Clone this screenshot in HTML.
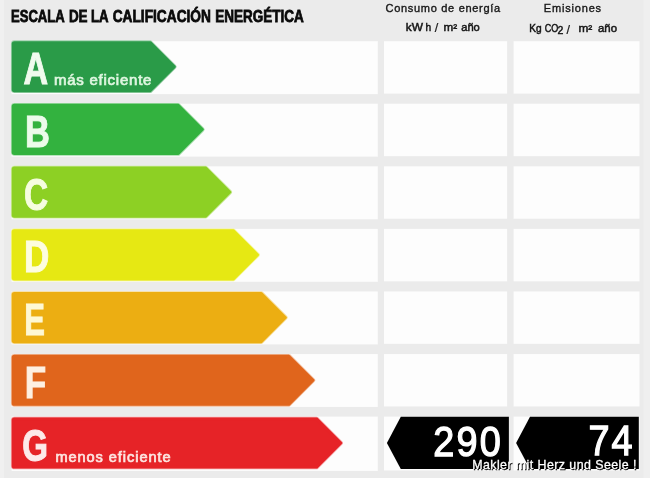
<!DOCTYPE html>
<html><head><meta charset="utf-8"><title>Escala de la calificación energética</title>
<style>
html,body{margin:0;padding:0;background:#ebebeb;}
body{width:650px;height:478px;overflow:hidden;font-family:"Liberation Sans",sans-serif;}
svg{display:block;font-family:"Liberation Sans",sans-serif;}
</style></head><body>
<svg style="will-change:transform" width="650" height="478" viewBox="0 0 650 478">
<rect x="0" y="0" width="650" height="478" fill="#ebebeb"/>
<g font-size="17" font-weight="bold" fill="#0a0a0a" stroke="#0a0a0a" stroke-width="0.8"><text x="11.0" y="21.9" textLength="53.7" lengthAdjust="spacingAndGlyphs">ESCALA</text><text x="68.9" y="21.9" textLength="18.7" lengthAdjust="spacingAndGlyphs">DE</text><text x="91.0" y="21.9" textLength="17.6" lengthAdjust="spacingAndGlyphs">LA</text><text x="112.7" y="21.9" textLength="98.2" lengthAdjust="spacingAndGlyphs">CALIFICACIÓN</text><text x="215.2" y="21.9" textLength="88.5" lengthAdjust="spacingAndGlyphs">ENERGÉTICA</text></g>
<text x="385.6" y="11.6" font-size="11" fill="#151515" stroke="#151515" stroke-width="0.35" textLength="114.5" lengthAdjust="spacing">Consumo de energía</text>
<g font-size="10.2" fill="#151515" stroke="#151515" stroke-width="0.45"><text x="405.8" y="31.1" textLength="17.2" lengthAdjust="spacingAndGlyphs">kW</text><text x="425.6" y="31.1">h</text><text x="434.8" y="32.3" font-size="12.5" stroke-width="0.2">/</text><text x="443.6" y="31.1" textLength="13.6" lengthAdjust="spacingAndGlyphs">m²</text><text x="461.2" y="31.1" textLength="18.6" lengthAdjust="spacingAndGlyphs">año</text></g>
<text x="543.8" y="11.6" font-size="11" fill="#151515" stroke="#151515" stroke-width="0.35" textLength="57.3" lengthAdjust="spacing">Emisiones</text>
<g font-size="10.2" fill="#151515" stroke="#151515" stroke-width="0.45"><text x="529.2" y="32.2" textLength="12.4" lengthAdjust="spacingAndGlyphs">Kg</text><text x="544.8" y="32.2" textLength="13.6" lengthAdjust="spacingAndGlyphs">CO</text><text x="557.6" y="34.3" font-size="10.5">2</text><text x="566.6" y="33.6" font-size="12.5" stroke-width="0.2">/</text><text x="578.4" y="32.2" textLength="13.8" lengthAdjust="spacingAndGlyphs">m²</text><text x="598.0" y="32.2" textLength="19.0" lengthAdjust="spacingAndGlyphs">año</text></g>
<defs><filter id="soft" x="-5%" y="-5%" width="110%" height="110%"><feGaussianBlur stdDeviation="0.7"/></filter></defs>
<g filter="url(#soft)">
<rect x="11.6" y="41.20" width="366.2" height="52.90" fill="#fdfdfd"/>
<rect x="384.0" y="41.20" width="123.1" height="52.40" fill="#fdfdfd"/>
<rect x="513.6" y="41.20" width="125.9" height="52.40" fill="#fdfdfd"/>
<rect x="11.6" y="103.77" width="366.2" height="52.90" fill="#fdfdfd"/>
<rect x="384.0" y="103.77" width="123.1" height="52.40" fill="#fdfdfd"/>
<rect x="513.6" y="103.77" width="125.9" height="52.40" fill="#fdfdfd"/>
<rect x="11.6" y="166.34" width="366.2" height="52.90" fill="#fdfdfd"/>
<rect x="384.0" y="166.34" width="123.1" height="52.40" fill="#fdfdfd"/>
<rect x="513.6" y="166.34" width="125.9" height="52.40" fill="#fdfdfd"/>
<rect x="11.6" y="228.91" width="366.2" height="52.90" fill="#fdfdfd"/>
<rect x="384.0" y="228.91" width="123.1" height="52.40" fill="#fdfdfd"/>
<rect x="513.6" y="228.91" width="125.9" height="52.40" fill="#fdfdfd"/>
<rect x="11.6" y="291.48" width="366.2" height="52.90" fill="#fdfdfd"/>
<rect x="384.0" y="291.48" width="123.1" height="52.40" fill="#fdfdfd"/>
<rect x="513.6" y="291.48" width="125.9" height="52.40" fill="#fdfdfd"/>
<rect x="11.6" y="354.05" width="366.2" height="52.90" fill="#fdfdfd"/>
<rect x="384.0" y="354.05" width="123.1" height="52.40" fill="#fdfdfd"/>
<rect x="513.6" y="354.05" width="125.9" height="52.40" fill="#fdfdfd"/>
<rect x="11.6" y="416.62" width="366.2" height="54.30" fill="#fdfdfd"/>
<rect x="384.0" y="416.62" width="123.1" height="53.80" fill="#fdfdfd"/>
<rect x="513.6" y="416.62" width="125.9" height="53.80" fill="#fdfdfd"/>
</g>
<rect x="0" y="0" width="4" height="478" fill="#f0f0f0"/>
<rect x="643.5" y="0" width="6.5" height="478" fill="#efefef"/>
<path d="M14.40,42.50 L150.28,42.50 L174.48,66.70 L150.28,90.90 L14.40,90.90 Q13.10,90.90 13.10,89.60 L13.10,43.80 Q13.10,42.50 14.40,42.50 Z" fill="#2a9b48" stroke="#9fd2ad" stroke-width="4.3" stroke-linejoin="round"/>
<path d="M14.40,42.50 L150.28,42.50 L174.48,66.70 L150.28,90.90 L14.40,90.90 Q13.10,90.90 13.10,89.60 L13.10,43.80 Q13.10,42.50 14.40,42.50 Z" fill="#2a9b48" stroke="#2a9b48" stroke-width="2.7" stroke-linejoin="round"/>
<text transform="translate(23.53,84.30) scale(0.7632,1)" font-size="44.6" font-weight="bold" fill="#f0fbee" stroke="#f0fbee" stroke-width="1.0">A</text>
<text x="54" y="84.50" font-size="15" fill="#dff6e0" stroke="#dff6e0" stroke-width="0.7" textLength="97.4" lengthAdjust="spacing">más eficiente</text>
<path d="M14.40,105.22 L178.28,105.22 L202.48,129.42 L178.28,153.62 L14.40,153.62 Q13.10,153.62 13.10,152.32 L13.10,106.52 Q13.10,105.22 14.40,105.22 Z" fill="#33b23f" stroke="#a3dca9" stroke-width="4.3" stroke-linejoin="round"/>
<path d="M14.40,105.22 L178.28,105.22 L202.48,129.42 L178.28,153.62 L14.40,153.62 Q13.10,153.62 13.10,152.32 L13.10,106.52 Q13.10,105.22 14.40,105.22 Z" fill="#33b23f" stroke="#33b23f" stroke-width="2.7" stroke-linejoin="round"/>
<text transform="translate(24.98,147.02) scale(0.7730,1)" font-size="44.6" font-weight="bold" fill="#ecfbea" stroke="#ecfbea" stroke-width="1.0">B</text>
<path d="M14.40,167.94 L205.78,167.94 L229.98,192.14 L205.78,216.34 L14.40,216.34 Q13.10,216.34 13.10,215.04 L13.10,169.24 Q13.10,167.94 14.40,167.94 Z" fill="#8dd024" stroke="#ccea9c" stroke-width="4.3" stroke-linejoin="round"/>
<path d="M14.40,167.94 L205.78,167.94 L229.98,192.14 L205.78,216.34 L14.40,216.34 Q13.10,216.34 13.10,215.04 L13.10,169.24 Q13.10,167.94 14.40,167.94 Z" fill="#8dd024" stroke="#8dd024" stroke-width="2.7" stroke-linejoin="round"/>
<text transform="translate(24.10,209.74) scale(0.7493,1)" font-size="44.6" font-weight="bold" fill="#f6fde0" stroke="#f6fde0" stroke-width="1.0">C</text>
<path d="M14.40,230.66 L233.48,230.66 L257.68,254.86 L233.48,279.06 L14.40,279.06 Q13.10,279.06 13.10,277.76 L13.10,231.96 Q13.10,230.66 14.40,230.66 Z" fill="#e6e813" stroke="#f4f595" stroke-width="4.3" stroke-linejoin="round"/>
<path d="M14.40,230.66 L233.48,230.66 L257.68,254.86 L233.48,279.06 L14.40,279.06 Q13.10,279.06 13.10,277.76 L13.10,231.96 Q13.10,230.66 14.40,230.66 Z" fill="#e6e813" stroke="#e6e813" stroke-width="2.7" stroke-linejoin="round"/>
<text transform="translate(23.95,272.46) scale(0.7865,1)" font-size="44.6" font-weight="bold" fill="#fdfde0" stroke="#fdfde0" stroke-width="1.0">D</text>
<path d="M14.40,293.38 L261.28,293.38 L285.48,317.58 L261.28,341.78 L14.40,341.78 Q13.10,341.78 13.10,340.48 L13.10,294.68 Q13.10,293.38 14.40,293.38 Z" fill="#ecae12" stroke="#f6db94" stroke-width="4.3" stroke-linejoin="round"/>
<path d="M14.40,293.38 L261.28,293.38 L285.48,317.58 L261.28,341.78 L14.40,341.78 Q13.10,341.78 13.10,340.48 L13.10,294.68 Q13.10,293.38 14.40,293.38 Z" fill="#ecae12" stroke="#ecae12" stroke-width="2.7" stroke-linejoin="round"/>
<text transform="translate(24.37,335.18) scale(0.6956,1)" font-size="44.6" font-weight="bold" fill="#fef8d4" stroke="#fef8d4" stroke-width="1.0">E</text>
<path d="M14.40,356.10 L288.88,356.10 L313.08,380.30 L288.88,404.50 L14.40,404.50 Q13.10,404.50 13.10,403.20 L13.10,357.40 Q13.10,356.10 14.40,356.10 Z" fill="#e0651c" stroke="#f1ba99" stroke-width="4.3" stroke-linejoin="round"/>
<path d="M14.40,356.10 L288.88,356.10 L313.08,380.30 L288.88,404.50 L14.40,404.50 Q13.10,404.50 13.10,403.20 L13.10,357.40 Q13.10,356.10 14.40,356.10 Z" fill="#e0651c" stroke="#e0651c" stroke-width="2.7" stroke-linejoin="round"/>
<text transform="translate(24.64,397.90) scale(0.7873,1)" font-size="44.6" font-weight="bold" fill="#fef0e2" stroke="#fef0e2" stroke-width="1.0">F</text>
<path d="M14.40,418.82 L316.58,418.82 L340.78,443.02 L316.58,467.22 L14.40,467.22 Q13.10,467.22 13.10,465.92 L13.10,420.12 Q13.10,418.82 14.40,418.82 Z" fill="#e62327" stroke="#f49c9e" stroke-width="4.3" stroke-linejoin="round"/>
<path d="M14.40,418.82 L316.58,418.82 L340.78,443.02 L316.58,467.22 L14.40,467.22 Q13.10,467.22 13.10,465.92 L13.10,420.12 Q13.10,418.82 14.40,418.82 Z" fill="#e62327" stroke="#e62327" stroke-width="2.7" stroke-linejoin="round"/>
<text transform="translate(22.21,460.62) scale(0.7429,1)" font-size="44.6" font-weight="bold" fill="#fdeaea" stroke="#fdeaea" stroke-width="1.0">G</text>
<text x="55.4" y="462.02" font-size="14.6" fill="#fde4e0" stroke="#fde4e0" stroke-width="0.7" textLength="115.2" lengthAdjust="spacing">menos eficiente</text>
<path d="M386.9,442.90 L400.8,416.70 L508.9,416.70 L508.9,469.10 L400.8,469.10 Z" fill="#000"/>
<path d="M516.1,442.90 L530,416.70 L638.8,416.70 L638.8,469.10 L530,469.10 Z" fill="#000"/>
<text transform="translate(433.37,455.6) scale(0.88,1)" font-size="43.0" letter-spacing="2.4" fill="#fff" stroke="#fff" stroke-width="1.3">290</text>
<text transform="translate(588.43,455.4) scale(0.88,1)" font-size="43.0" letter-spacing="2.4" fill="#fff" stroke="#fff" stroke-width="1.3">74</text>
<text x="473.0" y="470.0" font-size="12.4" fill="#000" stroke="#000" stroke-width="0.3" textLength="164.2" lengthAdjust="spacing">Makler mit Herz und Seele !</text>
<text x="472.2" y="469.2" font-size="12.4" fill="#fff" stroke="#fff" stroke-width="0.3" textLength="164.2" lengthAdjust="spacing">Makler mit Herz und Seele !</text>
</svg>
</body></html>
